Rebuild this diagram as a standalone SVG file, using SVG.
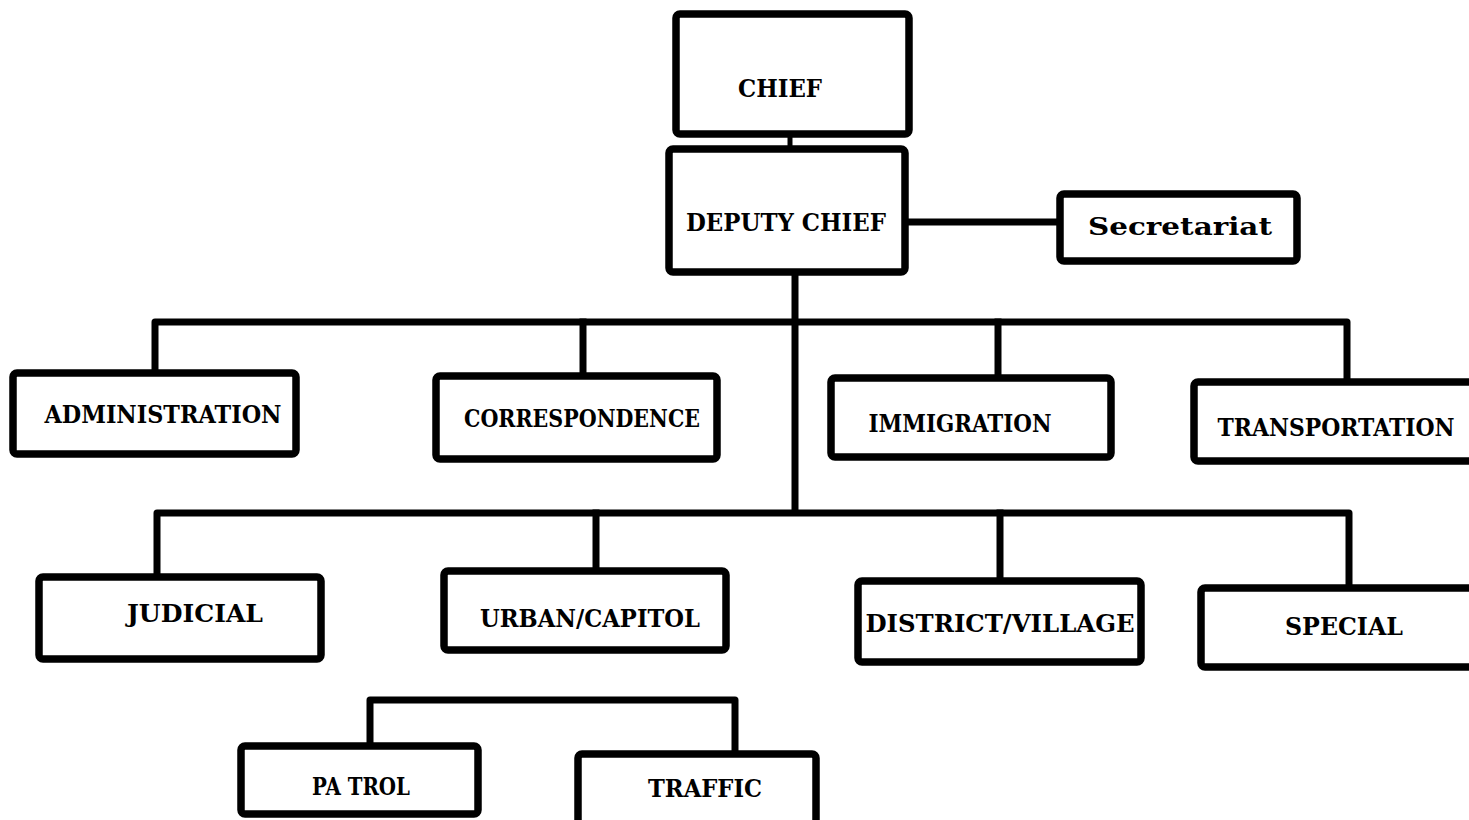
<svg xmlns="http://www.w3.org/2000/svg" width="1469" height="820" viewBox="0 0 1469 820">
  <style>
    .box { fill: #ffffff; stroke: #000000; stroke-width: 7.5; stroke-linejoin: round; }
    .wire { fill: none; stroke: #000000; stroke-width: 7; stroke-linejoin: round; stroke-linecap: square; }
    .thin { stroke-width: 5; }
    .label { font-family: "DejaVu Serif", "Liberation Serif", serif; font-weight: bold; font-size: 24px; fill: #000000; text-anchor: middle; }
  </style>
  <rect width="1469" height="820" fill="#ffffff"/>

  <!-- connectors -->
  <g id="connectors">
    <line class="wire thin" x1="790" y1="135" x2="790" y2="150"/>
    <line class="wire" x1="905" y1="222" x2="1060" y2="222"/>
    <line class="wire" x1="795" y1="272" x2="795" y2="512"/>
    <path class="wire" d="M155 372 V322 H1347 V382"/>
    <line class="wire" x1="583" y1="322" x2="583" y2="375"/>
    <line class="wire" x1="998" y1="322" x2="998" y2="378"/>
    <path class="wire" d="M157 577 V513 H1349 V588"/>
    <line class="wire" x1="596" y1="513" x2="596" y2="570"/>
    <line class="wire" x1="1000" y1="513" x2="1000" y2="580"/>
    <path class="wire" d="M370 745 V700 H735 V753"/>
  </g>

  <g id="chief">
    <rect class="box" x="676" y="14" width="233" height="120" rx="4"/>
    <text class="label" x="780" y="97" textLength="84" lengthAdjust="spacingAndGlyphs">CHIEF</text>
  </g>
  <g id="deputy-chief">
    <rect class="box" x="669" y="149" width="236" height="123" rx="4"/>
    <text class="label" x="786" y="231" textLength="200" lengthAdjust="spacingAndGlyphs">DEPUTY CHIEF</text>
  </g>
  <g id="secretariat">
    <rect class="box" x="1060" y="194" width="237" height="67" rx="4"/>
    <text class="label" x="1180" y="235" textLength="184" lengthAdjust="spacingAndGlyphs">Secretariat</text>
  </g>

  <g id="administration">
    <rect class="box" x="13" y="373" width="283" height="81" rx="4"/>
    <text class="label" x="163" y="423" textLength="237" lengthAdjust="spacingAndGlyphs">ADMINISTRATION</text>
  </g>
  <g id="correspondence">
    <rect class="box" x="436" y="376" width="281" height="83" rx="4"/>
    <text class="label" x="582" y="427" textLength="236" lengthAdjust="spacingAndGlyphs">CORRESPONDENCE</text>
  </g>
  <g id="immigration">
    <rect class="box" x="831" y="378" width="280" height="79" rx="4"/>
    <text class="label" x="960" y="432" textLength="183" lengthAdjust="spacingAndGlyphs">IMMIGRATION</text>
  </g>
  <g id="transportation">
    <rect class="box" x="1194" y="382" width="285" height="79" rx="4"/>
    <text class="label" x="1336" y="436" textLength="237" lengthAdjust="spacingAndGlyphs">TRANSPORTATION</text>
  </g>

  <g id="judicial">
    <rect class="box" x="39" y="577" width="282" height="82" rx="4"/>
    <text class="label" x="195" y="622" textLength="136" lengthAdjust="spacingAndGlyphs">JUDICIAL</text>
  </g>
  <g id="urban-capitol">
    <rect class="box" x="444" y="571" width="282" height="79" rx="4"/>
    <text class="label" x="590" y="627" textLength="220" lengthAdjust="spacingAndGlyphs">URBAN/CAPITOL</text>
  </g>
  <g id="district-village">
    <rect class="box" x="858" y="581" width="283" height="81" rx="4"/>
    <text class="label" x="1000" y="632" textLength="269" lengthAdjust="spacingAndGlyphs">DISTRICT/VILLAGE</text>
  </g>
  <g id="special">
    <rect class="box" x="1201" y="588" width="278" height="79" rx="4"/>
    <text class="label" x="1344" y="635" textLength="118" lengthAdjust="spacingAndGlyphs">SPECIAL</text>
  </g>

  <g id="patrol">
    <rect class="box" x="241" y="746" width="237" height="68" rx="4"/>
    <text class="label" x="361" y="795" textLength="98" lengthAdjust="spacingAndGlyphs">PA TROL</text>
  </g>
  <g id="traffic">
    <rect class="box" x="578" y="754" width="238" height="70" rx="4"/>
    <text class="label" x="705" y="797" textLength="114" lengthAdjust="spacingAndGlyphs">TRAFFIC</text>
  </g>
</svg>
